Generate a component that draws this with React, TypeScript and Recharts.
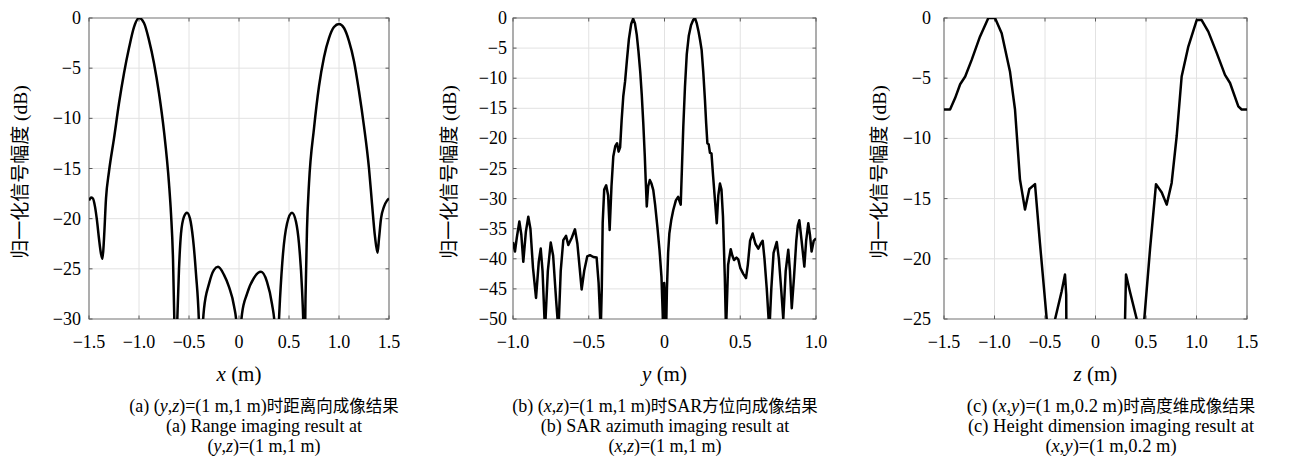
import React from 'react'
import { CartesianGrid, Line, LineChart, ReferenceArea, ReferenceLine, XAxis, YAxis } from 'recharts'

// 三幅子图：距离向 / SAR方位向 / 高度维 的归一化成像剖面
const SERIF = '"Liberation Serif", "DejaVu Serif", serif'
const CJK = '"Noto Sans CJK SC", sans-serif'
const GRID = '#e2e2e2'
const BOX = '#808080'

// (a) 距离向 x (m) / dB
const aX = [
  -1.5, -1.48, -1.46, -1.44, -1.42, -1.4, -1.38, -1.365, -1.35, -1.33,
  -1.3, -1.25, -1.2, -1.15, -1.1, -1.05, -1.0, -0.95, -0.9, -0.85,
  -0.8, -0.75, -0.7, -0.68, -0.66, -0.645, -0.635, -0.62, -0.6, -0.58,
  -0.55, -0.52, -0.49, -0.46, -0.43, -0.4, -0.385, -0.37, -0.35, -0.3,
  -0.25, -0.21, -0.15, -0.1, -0.05, -0.02, -0.005, 0.01, 0.03, 0.08,
  0.15, 0.22, 0.28, 0.33, 0.36, 0.375, 0.39, 0.41, 0.44, 0.48,
  0.53, 0.57, 0.6, 0.63, 0.645, 0.655, 0.665, 0.68, 0.7, 0.75,
  0.8, 0.85, 0.9, 0.95, 1.0, 1.05, 1.1, 1.15, 1.2, 1.25,
  1.3, 1.33, 1.36, 1.385, 1.4, 1.42, 1.45, 1.48, 1.5,
]
const aDb = [
  -18.2, -17.9, -18.0, -18.8, -20.2, -22.0, -23.5, -24.0, -22.0, -18.0,
  -15.3, -12.0, -8.5, -5.5, -3.0, -0.9, 0, -0.5, -2.2, -4.5,
  -7.5, -11.3, -16.5, -19.5, -24, -31, -36, -31, -25, -21.5,
  -19.8, -19.4, -20.0, -22.0, -25.5, -30.5, -36, -32, -29, -26.5,
  -25.1, -24.8, -25.6, -26.8, -28.7, -31, -36, -32, -29.5, -27.5,
  -25.9, -25.3, -26.3, -28.5, -31, -36, -32, -28, -23.5, -20.5,
  -19.4, -20.3, -22.5, -27, -31, -36, -28, -21, -16.5, -11,
  -6.8, -3.9, -2.0, -0.9, -0.6, -1.0, -2.3, -4.3, -7.3, -10.8,
  -15.0, -18.5, -21.8, -23.4, -22.0, -20.0, -18.8, -18.2, -18.0,
]

// (b) SAR方位向 y (m) / dB
const bY = [
  -1.0, -0.987, -0.975, -0.958, -0.945, -0.932, -0.915, -0.899, -0.885, -0.868,
  -0.848, -0.83, -0.817, -0.805, -0.789, -0.77, -0.751, -0.735, -0.715, -0.7,
  -0.685, -0.668, -0.65, -0.635, -0.612, -0.591, -0.575, -0.56, -0.547, -0.53,
  -0.51, -0.492, -0.47, -0.448, -0.435, -0.421, -0.414, -0.408, -0.398, -0.385,
  -0.372, -0.362, -0.35, -0.338, -0.325, -0.313, -0.303, -0.293, -0.283, -0.272,
  -0.26, -0.248, -0.235, -0.22, -0.207, -0.195, -0.183, -0.172, -0.16, -0.15,
  -0.14, -0.13, -0.124, -0.117, -0.108, -0.097, -0.086, -0.074, -0.062, -0.047,
  -0.033, -0.02, -0.012, -0.008, -0.002, 0.004, 0.01, 0.016, 0.024, 0.032,
  0.045, 0.058, 0.075, 0.09, 0.1, 0.107, 0.115, 0.124, 0.135, 0.147,
  0.16, 0.175, 0.19, 0.201, 0.213, 0.225, 0.235, 0.245, 0.256, 0.267,
  0.275, 0.283, 0.292, 0.3, 0.31, 0.32, 0.333, 0.345, 0.355, 0.366,
  0.376, 0.386, 0.398, 0.406, 0.42, 0.437, 0.448, 0.459, 0.475, 0.487,
  0.5, 0.52, 0.538, 0.55, 0.565, 0.582, 0.6, 0.619, 0.635, 0.648,
  0.66, 0.675, 0.692, 0.705, 0.72, 0.741, 0.755, 0.77, 0.784, 0.8,
  0.817, 0.828, 0.84, 0.855, 0.87, 0.88, 0.89, 0.905, 0.923, 0.935,
  0.949, 0.96, 0.971, 0.985, 1.0,
]
const bDb = [
  -37.2, -38.8, -36.5, -33.8, -36.0, -40.5, -35.5, -33.0, -35.0, -41.5,
  -46.5, -40.5, -38.3, -42, -52, -42, -37.3, -39.5, -47, -52,
  -42, -36.9, -36.2, -37.7, -36.5, -35.1, -37.5, -41.5, -45.1, -42,
  -39.6, -39.4, -39.7, -39.8, -44, -52, -45, -34, -28.5, -27.8,
  -29.5, -35.2, -28, -23, -21.3, -20.8, -22.2, -21.5, -17, -13,
  -10.5, -7, -3.5, -1.0, -0.1, -0.9, -2.8, -5.5, -9, -12.8,
  -17.5, -23, -27, -31.3, -28, -26.9, -27.5, -28.6, -31, -34.7,
  -38.5, -43, -49, -53, -44, -47, -53, -45, -39, -35.8,
  -33.5, -31.9, -30.3, -29.7, -30.5, -31, -25, -18.1, -11.5, -6,
  -3, -1.2, -0.3, 0, -0.9, -2.3, -3.7, -5.3, -9, -13.6,
  -17.5, -20.8, -21.0, -22.4, -22.5, -26, -30.2, -34.1, -29.5, -27.5,
  -28.5, -33, -43, -52, -41, -38.4, -39.5, -40.2, -39.8, -40.1,
  -41.5, -42.5, -43.2, -41, -37, -35.8, -37.5, -38.3, -37.5, -37.0,
  -40, -45, -52, -45, -39, -37.2, -40, -45, -50, -42,
  -38.5, -42, -48.2, -43, -37, -34.5, -33.6, -37, -41.3, -37,
  -34.1, -36, -38.8, -37, -36.6,
]

// (c) 高度维 z (m) / dB
const cZ = [
  -1.5, -1.44, -1.39, -1.34, -1.29, -1.226, -1.144, -1.061, -0.995, -0.929,
  -0.847, -0.797, -0.748, -0.698, -0.655, -0.599, -0.55, -0.483, -0.45, -0.43,
  -0.4, -0.335, -0.302, -0.29, -0.285, 0, 0.285, 0.29, 0.302, 0.34,
  0.408, 0.44, 0.47, 0.483, 0.54, 0.599, 0.656, 0.705, 0.754, 0.804,
  0.853, 0.919, 1.002, 1.051, 1.117, 1.2, 1.282, 1.332, 1.414, 1.447,
  1.5,
]
const cDb = [
  -7.6, -7.6, -6.65, -5.5, -4.86, -3.48, -1.55, 0, 0, -1.27,
  -4.44, -7.6, -13.4, -15.9, -14.2, -13.8, -18.7, -25, -28, -27,
  -25, -22.7, -21.3, -23, -32, -40, -32, -26, -21.3, -22.7,
  -25, -27, -26, -25, -19.2, -13.8, -14.5, -15.5, -13.7, -9.8,
  -4.86, -2.37, -0.17, -0.17, -1.13, -2.9, -4.72, -5.4, -7.34, -7.6,
  -7.6,
]

const ticks15 = [-1.5, -1, -0.5, 0, 0.5, 1, 1.5]
const ticks10 = [-1, -0.5, 0, 0.5, 1]
const aTicksY = [-30, -25, -20, -15, -10, -5, 0]
const bTicksY = [-50, -45, -40, -35, -30, -25, -20, -15, -10, -5, 0]
const cTicksY = [-25, -20, -15, -10, -5, 0]

const zip = (xs: number[], ys: number[]) => xs.map((x, i) => ({ x, db: ys[i] }))

const fmtX = (v: number) => (v === 0 ? '0' : (v < 0 ? '\u2212' : '') + Math.abs(v).toFixed(1))
const fmtY = (v: number) => (v === 0 ? '0' : (v < 0 ? '\u2212' : '') + Math.abs(v))

const serif = (size: number) => ({ fontFamily: SERIF, fontSize: size })

function XTick(props: any) {
  const { x = 0, y = 0, payload } = props
  return (
    <text x={x} y={y + 29} textAnchor="middle" fill="#000" style={serif(18)}>
      {fmtX(payload.value)}
    </text>
  )
}

function YTick(props: any) {
  const { x = 0, y = 0, payload, gap } = props
  return (
    <text x={x - gap} y={y + 6} textAnchor="end" fill="#000" style={serif(18)}>
      {fmtY(payload.value)}
    </text>
  )
}

type PanelProps = {
  left: number
  width: number
  axisW: number
  right: number
  data: { x: number; db: number }[]
  xDomain: [number, number]
  xTicks: number[]
  yMin: number
  yTicks: number[]
  gap: number
  curve: 'monotone' | 'linear'
}

function Panel(p: PanelProps) {
  const [x0, x1] = p.xDomain
  // MATLAB 风格的内向刻度（约 3px）
  const tx = ((x1 - x0) / 300) * 3.5
  const ty = (-p.yMin / 300) * 3.5
  const TICK = '#5a5a5a'
  return (
    <div style={{ position: 'absolute', left: p.left, top: 0 }}>
      <LineChart width={p.width} height={360} data={p.data} margin={{ top: 18, right: p.right, bottom: 0, left: 0 }}>
        <CartesianGrid stroke={GRID} strokeWidth={1} />
        <XAxis
          type="number"
          dataKey="x"
          domain={p.xDomain}
          ticks={p.xTicks}
          interval={0}
          allowDataOverflow
          axisLine={false}
          tickLine={false}
          tickSize={0}
          tickMargin={0}
          height={41}
          tick={<XTick />}
        />
        <YAxis
          type="number"
          domain={[p.yMin, 0]}
          ticks={p.yTicks}
          interval={0}
          allowDataOverflow
          axisLine={false}
          tickLine={false}
          tickSize={0}
          tickMargin={0}
          width={p.axisW}
          tick={<YTick gap={p.gap} />}
        />
        {p.xTicks.map((t) => (
          <ReferenceLine key={`tb${t}`} segment={[{ x: t, y: p.yMin }, { x: t, y: p.yMin + ty }]} stroke={TICK} />
        ))}
        {p.xTicks.map((t) => (
          <ReferenceLine key={`tt${t}`} segment={[{ x: t, y: 0 }, { x: t, y: -ty }]} stroke={TICK} />
        ))}
        {p.yTicks.map((t) => (
          <ReferenceLine key={`tl${t}`} segment={[{ x: x0, y: t }, { x: x0 + tx, y: t }]} stroke={TICK} />
        ))}
        {p.yTicks.map((t) => (
          <ReferenceLine key={`tr${t}`} segment={[{ x: x1, y: t }, { x: x1 - tx, y: t }]} stroke={TICK} />
        ))}
        <ReferenceArea x1={x0} x2={x1} y1={p.yMin} y2={0} fill="none" stroke={BOX} strokeWidth={1.2} />
        <Line
          dataKey="db"
          type={p.curve}
          stroke="#000"
          strokeWidth={2.5}
          strokeLinejoin="round"
          dot={false}
          activeDot={false}
          isAnimationActive={false}
        />
      </LineChart>
    </div>
  )
}

function Caption(props: { cx: number; size: number; l1: React.ReactNode; l2: string; l3: React.ReactNode }) {
  const { cx, size } = props
  return (
    <g fill="#000" style={serif(size)}>
      <text x={cx} y={412} textAnchor="middle">{props.l1}</text>
      <text x={cx} y={432} textAnchor="middle">{props.l2}</text>
      <text x={cx} y={452} textAnchor="middle">{props.l3}</text>
    </g>
  )
}

const cj = (s: string, size: number) => (
  <tspan style={{ fontFamily: CJK, fontSize: size }}>{s}</tspan>
)
const it = (s: string) => <tspan style={{ fontStyle: 'italic' }}>{s}</tspan>

function YLabel({ x }: { x: number }) {
  return (
    <text x={x} y={172} transform={`rotate(-90 ${x} 172)`} textAnchor="middle" fill="#000" style={serif(19.5)}>
      {cj('归一化信号幅度', 19)} (dB)
    </text>
  )
}

function XLabel({ cx, v }: { cx: number; v: string }) {
  return (
    <text x={cx} y={381} textAnchor="middle" fill="#000" style={serif(21)}>
      {it(v)} (m)
    </text>
  )
}

export default function App() {
  return (
    <div style={{ position: 'relative', width: 1293, height: 474, background: '#fff', overflow: 'hidden', fontFamily: SERIF }}>
      <style>{'body{margin:0}'}</style>
      <Panel left={0} width={420} axisW={89} right={31} data={zip(aX, aDb)} xDomain={[-1.5, 1.5]} xTicks={ticks15}
        yMin={-30} yTicks={aTicksY} gap={8} curve="monotone" />
      <Panel left={420} width={420} axisW={93} right={24} data={zip(bY, bDb)} xDomain={[-1, 1]} xTicks={ticks10}
        yMin={-50} yTicks={bTicksY} gap={6} curve="linear" />
      <Panel left={840} width={453} axisW={104} right={46} data={zip(cZ, cDb)} xDomain={[-1.5, 1.5]} xTicks={ticks15}
        yMin={-25} yTicks={cTicksY} gap={13} curve="linear" />
      <svg width={1293} height={474} style={{ position: 'absolute', left: 0, top: 0, pointerEvents: 'none' }}>
        <YLabel x={27} />
        <YLabel x={456} />
        <YLabel x={886} />
        <XLabel cx={239} v="x" />
        <XLabel cx={664.5} v="y" />
        <XLabel cx={1095.5} v="z" />
        <Caption cx={264} size={18}
          l1={<>(a) ({it('y')},{it('z')})=(1 m,1 m){cj('时距离向成像结果', 16.5)}</>}
          l2="(a) Range imaging result at"
          l3={<>({it('y')},{it('z')})=(1 m,1 m)</>} />
        <Caption cx={665} size={18}
          l1={<>(b) ({it('x')},{it('z')})=(1 m,1 m){cj('时', 16.5)}SAR{cj('方位向成像结果', 16.5)}</>}
          l2="(b) SAR azimuth imaging result at"
          l3={<>({it('x')},{it('z')})=(1 m,1 m)</>} />
        <Caption cx={1111} size={18.5}
          l1={<>(c) ({it('x')},{it('y')})=(1 m,0.2 m){cj('时高度维成像结果', 16.5)}</>}
          l2="(c) Height dimension imaging result at"
          l3={<>({it('x')},{it('y')})=(1 m,0.2 m)</>} />
      </svg>
    </div>
  )
}
